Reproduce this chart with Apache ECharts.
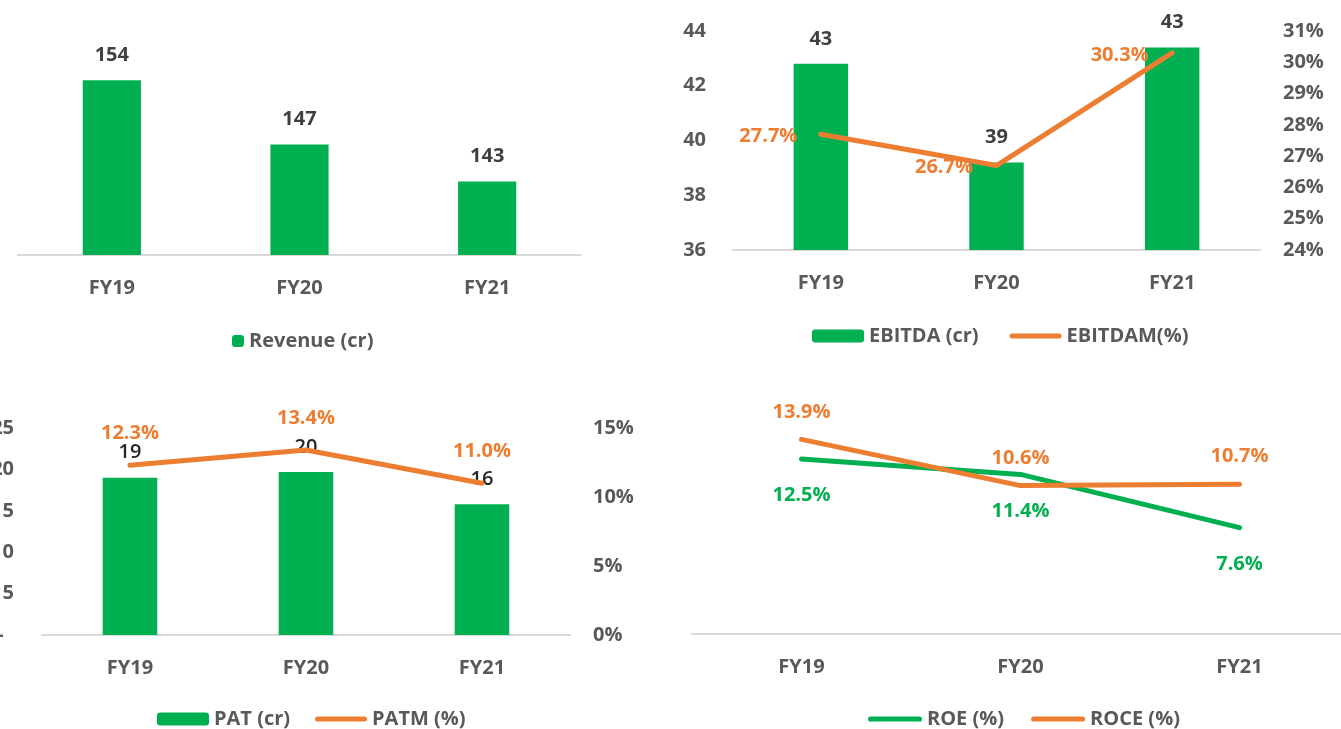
<!DOCTYPE html>
<html>
<head>
<meta charset="utf-8">
<script src="https://cdn.jsdelivr.net/npm/echarts@6/dist/echarts.min.js"></script>
<style>
  html, body { margin: 0; padding: 0; background: #fff; }
  #chart { width: 1341px; height: 729px; }
</style>
</head>
<body>
<div id="chart"></div>
<script>
// data
const years = ['FY19', 'FY20', 'FY21']
const revenue = [154, 147, 143]
const ebitda = [42.8, 39.2, 43.4]
const ebitdaMargin = [27.7, 26.7, 30.3]
const pat = [19.0, 19.7, 15.8]
const patMargin = [12.3, 13.4, 11.0]
const roe = [12.5, 11.4, 7.6]
const roce = [13.9, 10.6, 10.7]

const GREEN = '#00b050'
const ORANGE = '#ed7d31'
const GREY = '#595959'
const FONT = 'Open Sans'
const SIZE = 20

// 图例里的粗线
const LINE_ICON = 'path://M2.5,0H49.5A2.5,2.5 0 0 1 49.5,5H2.5A2.5,2.5 0 0 1 2.5,0Z'

const chart = echarts.init(document.getElementById('chart'))

// x 轴（四個图共用的样式）
const catAxis = (gridIndex) => ({
  type: 'category',
  gridIndex,
  data: years,
  axisLine: { lineStyle: { color: '#d9d9d9', width: 2 } },
  axisTick: { show: false },
  axisLabel: { color: GREY, fontWeight: 'bold', fontSize: SIZE, fontFamily: FONT, margin: 23 }
})

const yLabel = (extra) => Object.assign({ color: GREY, fontWeight: 'bold', fontSize: SIZE, fontFamily: FONT }, extra)

// y 轴
const valAxis = (gridIndex, opts) => Object.assign({
  type: 'value',
  gridIndex,
  axisLine: { show: false },
  axisTick: { show: false },
  splitLine: { show: false },
  axisLabel: yLabel({})
}, opts)

const legendText = { color: GREY, fontWeight: 'bold', fontSize: SIZE, fontFamily: FONT }

const barLabel = (fmt, weight, color) => ({
  show: true,
  position: 'top',
  distance: 15,
  color,
  fontWeight: weight,
  fontSize: SIZE,
  fontFamily: FONT,
  formatter: fmt
})

const pctLabel = (color, position, distance) => ({
  show: true,
  position,
  distance,
  color,
  fontWeight: 'bold',
  fontSize: SIZE,
  fontFamily: FONT,
  formatter: (p) => p.value.toFixed(1) + '%'
})

const lineStyle = (color) => ({ color, width: 5, cap: 'round', join: 'round' })

const lineSeries = (name, data, color, y, x, label) => ({
  name, type: 'line', xAxisIndex: x, yAxisIndex: y, data,
  symbol: 'circle', symbolSize: 1,
  itemStyle: { color }, lineStyle: lineStyle(color),
  label
})

const option = {
  animation: false,
  grid: [
    { left: 18, width: 563, top: 71, height: 184, outerBoundsMode: 'none' },
    { left: 733, width: 527, top: 31, height: 219, outerBoundsMode: 'none' },
    { left: 42, width: 528, top: 428, height: 207, outerBoundsMode: 'none' },
    { left: 692, width: 657, top: 424, height: 210, outerBoundsMode: 'none' }
  ],
  xAxis: [catAxis(0), catAxis(1), catAxis(2), catAxis(3)],
  yAxis: [
    valAxis(0, { show: false, min: 135, max: 155 }),
    valAxis(1, { min: 36, max: 44, interval: 2, axisLabel: yLabel({ margin: 27 }) }),
    valAxis(1, { position: 'right', min: 24, max: 31, interval: 1, axisLabel: yLabel({ margin: 23, formatter: '{value}%' }) }),
    valAxis(2, { min: 0, max: 25, interval: 5, axisLabel: yLabel({ margin: 28, formatter: (v) => (v === 0 ? '-  ' : v) }) }),
    valAxis(2, { position: 'right', min: 0, max: 15, interval: 5, axisLabel: yLabel({ margin: 23, formatter: '{value}%' }) }),
    valAxis(3, { show: false, min: 0, max: 15 })
  ],
  legend: [
    { data: ['Revenue (cr)'], left: 232, top: 331, padding: 0, itemWidth: 12, itemHeight: 12, textStyle: legendText },
    {
      data: ['EBITDA (cr)', { name: 'EBITDAM(%)', icon: LINE_ICON }],
      left: 812, top: 326, padding: 0, itemWidth: 52, itemHeight: 13, itemGap: 31, textStyle: legendText
    },
    {
      data: ['PAT (cr)', { name: 'PATM (%)', icon: LINE_ICON }],
      left: 157, top: 709, padding: 0, itemWidth: 52, itemHeight: 13, itemGap: 25, textStyle: legendText
    },
    {
      data: [{ name: 'ROE (%)', icon: LINE_ICON }, { name: 'ROCE (%)', icon: LINE_ICON }],
      left: 868, top: 709, padding: 0, itemWidth: 54, itemHeight: 13, itemGap: 27, textStyle: legendText
    }
  ],
  series: [
    {
      name: 'Revenue (cr)', type: 'bar', xAxisIndex: 0, yAxisIndex: 0,
      data: revenue, barWidth: '31%', itemStyle: { color: GREEN },
      label: barLabel('{c}', 'bold', '#404040')
    },
    {
      name: 'EBITDA (cr)', type: 'bar', xAxisIndex: 1, yAxisIndex: 1,
      data: ebitda, barWidth: '31%', itemStyle: { color: GREEN },
      label: barLabel((p) => Math.round(p.value), 'bold', '#404040')
    },
    lineSeries('EBITDAM(%)', ebitdaMargin, ORANGE, 2, 1,
      Object.assign(pctLabel(ORANGE, 'left', 23), { offset: [0, 2] })),
    {
      name: 'PAT (cr)', type: 'bar', xAxisIndex: 2, yAxisIndex: 3,
      data: pat, barWidth: '31%', itemStyle: { color: GREEN },
      label: barLabel((p) => Math.round(p.value), '600', '#262626')
    },
    lineSeries('PATM (%)', patMargin, ORANGE, 4, 2, pctLabel(ORANGE, 'top', 21)),
    lineSeries('ROE (%)', roe, GREEN, 5, 3, pctLabel(GREEN, 'bottom', 26)),
    lineSeries('ROCE (%)', roce, ORANGE, 5, 3, pctLabel(ORANGE, 'top', 17))
  ]
}

chart.setOption(option)
</script>
</body>
</html>
